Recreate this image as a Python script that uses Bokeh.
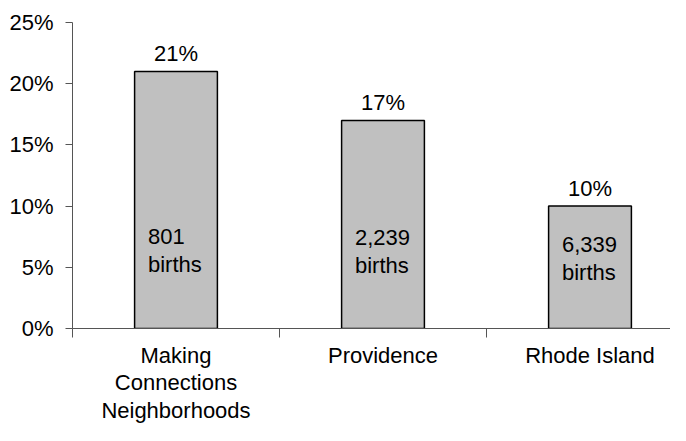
from bokeh.plotting import figure
from bokeh.models import Range1d, FixedTicker, ColumnDataSource
from bokeh.embed import file_html
from bokeh.resources import INLINE
from bokeh.core.properties import value

# ---- data ----
categories = ["Making\nConnections\nNeighborhoods", "Providence", "Rhode Island"]
percent = [21, 17, 10]
percent_labels = ["21%", "17%", "10%"]
births = ["801", "2,239", "6,339"]
births_word = ["births", "births", "births"]
y_ticks = [0, 5, 10, 15, 20, 25]
y_tick_labels = ["0%", "5%", "10%", "15%", "20%", "25%"]

# ---- layout constants ----
inner_label_y = [7.5, 7.45, 6.9]   # baseline of first inner line, in axis units
FONT = "Liberation Sans"
FS = "22px"
LEFT = 72
CAT_PX = 207

xc = [i + 0.5 for i in range(len(categories))]
src = ColumnDataSource(dict(x=xc, top=percent, plab=percent_labels,
                            births=births, bw=births_word, iy=inner_label_y))

W, H = 670, 425
p = figure(width=W, height=H, output_backend="svg", toolbar_location=None,
           x_range=Range1d(0, (W - LEFT) / CAT_PX), y_range=Range1d(0, 25),
           min_border_left=LEFT, min_border_right=0, min_border_top=22,
           min_border_bottom=96)
p.outline_line_color = None
p.xgrid.grid_line_color = None
p.ygrid.grid_line_color = None
p.background_fill_color = "white"
p.border_fill_color = "white"

p.vbar(x="x", top="top", bottom=0, width=0.4, source=src,
       fill_color="#C0C0C0", line_color="black", line_width=1.5)

p.text(x="x", y="top", text="plab", source=src, text_align="center",
       text_baseline="alphabetic", y_offset=-18,
       text_font=value(FONT), text_font_size=FS, text_color="black")
p.text(x="x", y="iy", text="births", source=src, text_align="left",
       text_baseline="alphabetic", x_offset=-28,
       text_font=value(FONT), text_font_size=FS, text_color="black")
p.text(x="x", y="iy", text="bw", source=src, text_align="left",
       text_baseline="alphabetic", x_offset=-28, y_offset=28,
       text_font=value(FONT), text_font_size=FS, text_color="black")

# y axis
ya = p.yaxis[0]
ya.ticker = FixedTicker(ticks=y_ticks)
ya.major_label_overrides = {t: l for t, l in zip(y_ticks, y_tick_labels)}
ya.major_tick_out = 7
ya.major_tick_in = 0
ya.minor_tick_out = 0
ya.minor_tick_in = 0
ya.major_label_standoff = 12
ya.axis_line_color = "#555555"
ya.major_tick_line_color = "#555555"
ya.major_label_text_font = FONT
ya.major_label_text_font_size = FS
ya.major_label_text_color = "black"

# x axis
xa = p.xaxis[0]
xa.ticker = FixedTicker(ticks=xc, minor_ticks=[0, 1, 2, 3])
xa.major_label_overrides = {x: c for x, c in zip(xc, categories)}
xa.major_tick_out = 0
xa.major_tick_in = 0
xa.minor_tick_out = 9
xa.minor_tick_in = 0
xa.major_label_standoff = 5
xa.axis_line_color = "#555555"
xa.minor_tick_line_color = "#555555"
xa.major_label_text_font = FONT
xa.major_label_text_font_size = FS
xa.major_label_text_color = "black"
xa.major_label_text_line_height = 1.1

open("out.html", "w").write(file_html(p, INLINE))
